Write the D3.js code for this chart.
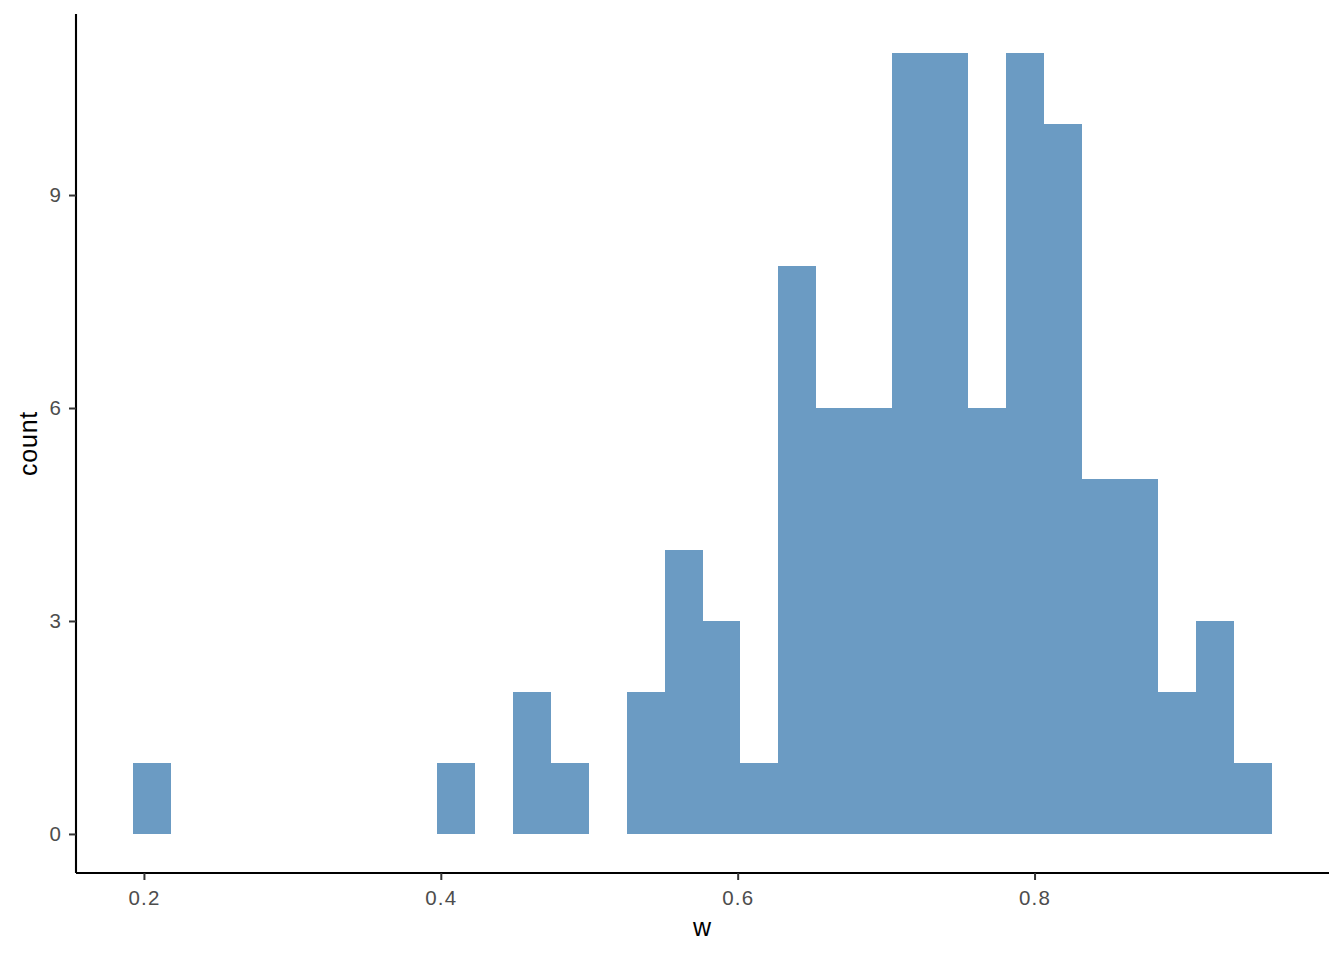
<!DOCTYPE html>
<html>
<head>
<meta charset="utf-8">
<script src="https://cdn.jsdelivr.net/npm/d3@7"></script>
<style>
  html, body { margin: 0; padding: 0; background: #fff; }
  svg { display: block; font-family: "Liberation Sans", Arial, sans-serif; }
</style>
</head>
<body>
<svg id="chart" width="1344" height="960"></svg>
<script>
// ---- data ----
const binStart = 0.1926;      // left edge of first bin
const binEnd = 0.9600;        // right edge of last bin
const counts = [1, 0, 0, 0, 0, 0, 0, 0, 1, 0,
                2, 1, 0, 2, 4, 3, 1, 8, 6, 6,
                11, 11, 6, 11, 10, 5, 5, 2, 3, 1];
const xTicks = [0.2, 0.4, 0.6, 0.8];
const yTicks = [0, 3, 6, 9];
const xLabel = "w";
const yLabel = "count";

// ---- layout ----
const svg = d3.select("#chart");
const panel = { left: 76, right: 1329, top: 14, bottom: 873 };

const nb = counts.length;
const bw = (binEnd - binStart) / nb;
const bins = counts.map((c, i) => ({ x0: binStart + i * bw, x1: binStart + (i + 1) * bw, count: c }));

const xr = binEnd - binStart;
const x = d3.scaleLinear()
  .domain([binStart - 0.05 * xr, binEnd + 0.05 * xr])
  .range([panel.left, panel.right]);
const yMax = d3.max(counts);
const y = d3.scaleLinear()
  .domain([-0.05 * yMax, yMax * 1.05])
  .range([panel.bottom, panel.top]);

// bars
svg.append("g").selectAll("rect")
  .data(bins.filter(d => d.count > 0))
  .join("rect")
  .attr("x", d => x(d.x0))
  .attr("width", d => x(d.x1) - x(d.x0))
  .attr("y", d => y(d.count))
  .attr("height", d => y(0) - y(d.count))
  .attr("fill", "#6B9BC3")
  .attr("shape-rendering", "crispEdges");

const tickFont = 20.5;

// x axis
const xAxis = svg.append("g")
  .attr("transform", `translate(0,${panel.bottom})`)
  .call(d3.axisBottom(x).tickValues(xTicks).tickFormat(d3.format(".1f")).tickSizeOuter(0).tickSize(7).tickPadding(10));
xAxis.select(".domain").attr("stroke", "#000").attr("stroke-width", 2.1);
xAxis.selectAll(".tick line").attr("stroke", "#333").attr("stroke-width", 2);
xAxis.selectAll(".tick text").attr("fill", "#4D4D4D").attr("font-size", tickFont)
  .attr("letter-spacing", 1.2).attr("font-family", "Liberation Sans, Arial, sans-serif");

// y axis
const yAxis = svg.append("g")
  .attr("transform", `translate(${panel.left},0)`)
  .call(d3.axisLeft(y).tickValues(yTicks).tickFormat(d3.format("d")).tickSizeOuter(0).tickSize(7).tickPadding(8));
yAxis.select(".domain").attr("stroke", "#000").attr("stroke-width", 2.1);
yAxis.selectAll(".tick line").attr("stroke", "#333").attr("stroke-width", 2);
yAxis.selectAll(".tick text").attr("fill", "#4D4D4D").attr("font-size", tickFont)
  .attr("font-family", "Liberation Sans, Arial, sans-serif");

// fix domain endpoints to full panel
xAxis.select(".domain").attr("d", `M${panel.left},0H${panel.right}`);
yAxis.select(".domain").attr("d", `M0,${panel.bottom}V${panel.top}`);

// axis titles
svg.append("text")
  .attr("x", (panel.left + panel.right) / 2)
  .attr("y", 936)
  .attr("text-anchor", "middle")
  .attr("font-size", 25)
  .attr("letter-spacing", 0.8)
  .attr("fill", "#000")
  .text(xLabel);

svg.append("text")
  .attr("transform", `translate(37,${(panel.top + panel.bottom) / 2}) rotate(-90)`)
  .attr("text-anchor", "middle")
  .attr("font-size", 25)
  .attr("letter-spacing", 0.8)
  .attr("fill", "#000")
  .text(yLabel);
</script>
</body>
</html>
